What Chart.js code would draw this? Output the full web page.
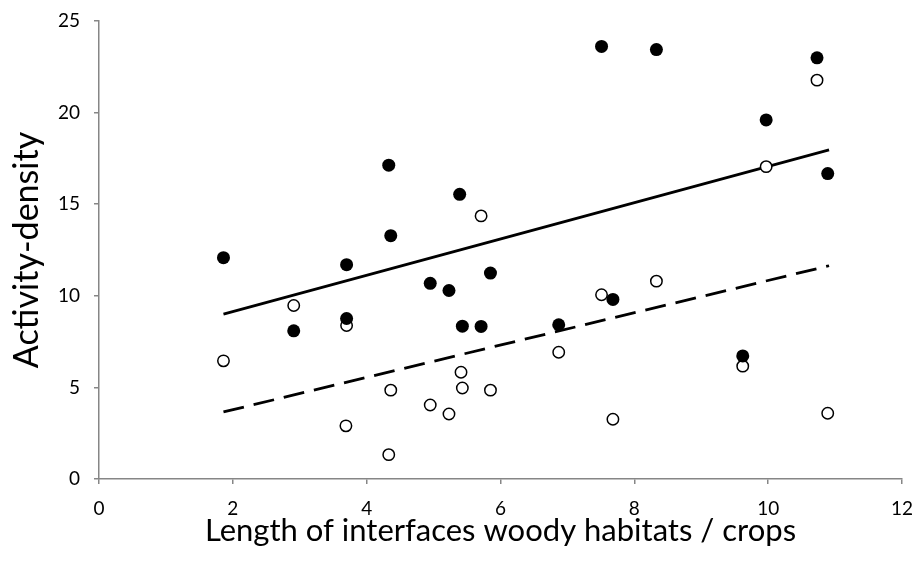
<!DOCTYPE html>
<html>
<head>
<meta charset="utf-8">
<script src="https://cdn.jsdelivr.net/npm/chart.js@4.4.1/dist/chart.umd.min.js"></script>
<style>
  html, body { margin: 0; padding: 0; background: #fff; }
  #wrap { width: 916px; height: 562px; }
</style>
</head>
<body>
<div id="wrap"><canvas id="grafico" width="916" height="562"></canvas></div>
<script>
// Dados
const xCheio = [1.86, 2.91, 3.70, 3.70, 4.33, 4.36, 4.95, 5.23, 5.39, 5.43, 5.71, 5.85, 6.87, 7.51, 7.68, 8.33, 9.62, 9.97, 10.73, 10.89];
const yCheio = [12.08, 8.09, 11.70, 8.76, 17.13, 13.28, 10.68, 10.29, 15.54, 8.34, 8.33, 11.24, 8.42, 23.61, 9.80, 23.44, 6.72, 19.60, 22.99, 16.67];

const xVazio = [1.86, 2.91, 3.70, 3.69, 4.36, 4.33, 4.95, 5.23, 5.41, 5.43, 5.71, 5.85, 6.87, 7.51, 7.68, 8.33, 9.62, 9.97, 10.73, 10.89];
const yVazio = [6.45, 9.47, 8.38, 2.90, 4.85, 1.33, 4.04, 3.55, 5.83, 4.97, 14.36, 4.85, 6.92, 10.06, 3.26, 10.80, 6.16, 17.05, 21.77, 3.59];

// Linhas de tendência (extremos)
const xTendencia = [1.86, 10.91];
const yTendenciaCheio = [9.0, 17.96];
const yTendenciaVazio = [3.66, 11.64];

const xTicks = [0, 2, 4, 6, 8, 10, 12];
const yTicks = [0, 5, 10, 15, 20, 25];

const fonte = "Lato, 'Open Sans', sans-serif";
const corEixo = '#868686';

function pares(xs, ys) {
    return xs.map((x, i) => ({ x: x, y: ys[i] }));
}

const ctx = document.getElementById('grafico').getContext('2d');

new Chart(ctx, {
    type: 'scatter',
    data: {
        datasets: [
            {
                label: 'cheio',
                data: pares(xCheio, yCheio),
                pointRadius: 6.5,
                pointBackgroundColor: '#000',
                pointBorderColor: '#000',
                pointBorderWidth: 0,
                order: 0
            },
            {
                label: 'vazio',
                data: pares(xVazio, yVazio),
                pointRadius: 5.7,
                pointBackgroundColor: '#fff',
                pointBorderColor: '#000',
                pointBorderWidth: 1.5,
                order: 1
            },
            {
                label: 'tendencia cheio',
                data: pares(xTendencia, yTendenciaCheio),
                showLine: true,
                borderColor: '#000',
                borderWidth: 2.8,
                pointRadius: 0,
                order: 2
            },
            {
                label: 'tendencia vazio',
                data: pares(xTendencia, yTendenciaVazio),
                showLine: true,
                borderColor: '#000',
                borderWidth: 2.8,
                borderDash: [21, 10],
                pointRadius: 0,
                order: 2
            }
        ]
    },
    options: {
        responsive: false,
        animation: false,
        layout: {
            padding: { top: 21, right: 14, left: 0, bottom: 0 }
        },
        plugins: {
            legend: { display: false },
            tooltip: { enabled: false }
        },
        scales: {
            x: {
                type: 'linear',
                min: 0,
                max: 12,
                afterBuildTicks: (s) => { s.ticks = xTicks.map(v => ({ value: v })); },
                afterFit: (s) => {
                    s.height = 83;
                    s.paddingLeft = 0;
                    s.paddingRight = 0;
                },
                border: { color: corEixo, width: 1.5 },
                grid: {
                    drawOnChartArea: false,
                    drawTicks: true,
                    tickLength: 5,
                    color: corEixo,
                    lineWidth: 1.5
                },
                ticks: {
                    color: '#000',
                    padding: 13,
                    font: { family: fonte, size: 19 }
                },
                title: {
                    display: true,
                    text: 'Length of interfaces woody habitats / crops',
                    color: '#000',
                    font: { family: fonte, size: 31 },
                    padding: { top: 0, bottom: 12 }
                }
            },
            y: {
                type: 'linear',
                min: 0,
                max: 25,
                afterBuildTicks: (s) => { s.ticks = yTicks.map(v => ({ value: v })); },
                afterFit: (s) => {
                    s.width = 99;
                    s.paddingTop = 0;
                    s.paddingBottom = 0;
                },
                border: { color: corEixo, width: 1.5 },
                grid: {
                    drawOnChartArea: false,
                    drawTicks: true,
                    tickLength: 5,
                    color: corEixo,
                    lineWidth: 1.5
                },
                ticks: {
                    color: '#000',
                    padding: 14,
                    font: { family: fonte, size: 19 }
                },
                title: {
                    display: true,
                    text: 'Activity-density',
                    color: '#000',
                    font: { family: fonte, size: 34 },
                    padding: { top: 7, bottom: 0 }
                }
            }
        }
    }
});
</script>
</body>
</html>
